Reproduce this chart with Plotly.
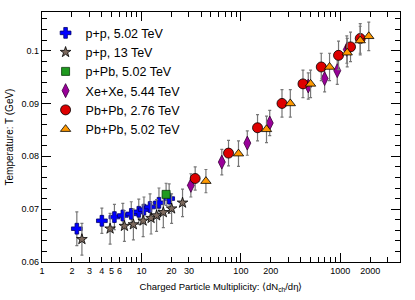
import plotly.graph_objects as go

# ---- data ----
pp502_x = [2.24, 4.0, 5.35, 6.5, 7.9, 9.4, 10.6, 12.2, 15.0, 19.0]
pp502_y = [0.0663, 0.0678, 0.0685, 0.0688, 0.0691, 0.0695, 0.0699, 0.0704, 0.0712, 0.0720]
pp502_e = [0.0032, 0.0024, 0.0024, 0.0023, 0.0023, 0.0024, 0.0024, 0.0025, 0.0028, 0.0028]

pp13_x = [2.52, 4.84, 6.74, 8.3, 10.4, 12.5, 14.2, 16.6, 20.1, 25.9]
pp13_y = [0.0643, 0.0663, 0.0668, 0.0671, 0.0678, 0.0683, 0.0688, 0.0694, 0.0701, 0.0712]
pp13_e = [0.0030, 0.0029, 0.0029, 0.0029, 0.0030, 0.0030, 0.0030, 0.0029, 0.0028, 0.0026]

ppb_x = [17.7]
ppb_y = [0.0728]
ppb_e = [0.0021]

xexe_x = [31.4, 64.3, 116, 195, 476, 695, 931, 1162]
xexe_y = [0.0745, 0.0789, 0.0825, 0.0863, 0.0933, 0.0947, 0.0962, 0.1002]
xexe_e = [0.0022, 0.0024, 0.0023, 0.0024, 0.0025, 0.0025, 0.0026, 0.0026]

pbpb276_x = [34.7, 75.1, 147, 259, 421, 643, 959, 1266, 1585]
pbpb276_y = [0.0758, 0.0806, 0.0854, 0.0900, 0.0937, 0.0969, 0.0991, 0.1007, 0.1023]
pbpb276_e = [0.0022, 0.0024, 0.0025, 0.0026, 0.0026, 0.0026, 0.0027, 0.0028, 0.0028]

pbpb502_x = [44.5, 94.6, 181, 314, 502, 779, 1173, 1585, 1932]
pbpb502_y = [0.0753, 0.0805, 0.0851, 0.0900, 0.0937, 0.0969, 0.0996, 0.1019, 0.1027]
pbpb502_e = [0.0022, 0.0024, 0.0025, 0.0026, 0.0026, 0.0026, 0.0027, 0.0027, 0.0027]

x_label_vals = [1, 2, 3, 4, 5, 6, 10, 20, 30, 100, 200, 1000, 2000]
x_label_text = ["1", "2", "3", "4", "5", "6", "10", "20", "30", "100", "200", "1000", "2000"]
x_decades = [1, 10, 100, 1000]
x_minor = [7, 8, 9, 40, 50, 60, 70, 80, 90, 300, 400, 500, 600, 700, 800, 900, 3000]

series = [
    ("p+p, 5.02 TeV", pp502_x, pp502_y, pp502_e, "cross", "#0000ff", "#00006a", 9),
    ("p+p, 13 TeV", pp13_x, pp13_y, pp13_e, "star", "#7d6a5e", "#000000", 8),
    ("p+Pb, 5.02 TeV", ppb_x, ppb_y, ppb_e, "square", "#1f9a1f", "#0a3a0a", 8),
    ("Xe+Xe, 5.44 TeV", xexe_x, xexe_y, xexe_e, "diamond-tall", "#990099", "#3a003a", 10),
    ("Pb+Pb, 2.76 TeV", pbpb276_x, pbpb276_y, pbpb276_e, "circle", "#dd0000", "#000000", 10),
    ("Pb+Pb, 5.02 TeV", pbpb502_x, pbpb502_y, pbpb502_e, "triangle-up", "#ff9900", "#000000", 9),
]

fig = go.Figure()
for name, xs, ys, es, sym, col, lcol, sz in series:
    fig.add_trace(go.Scatter(
        x=xs, y=ys, mode="markers", name=name,
        error_y=dict(type="data", array=es, visible=True, color="#777777",
                     thickness=1.2, width=1.5),
        marker=dict(symbol=sym, color=col, size=sz, line=dict(color=lcol, width=0.8)),
    ))

# decade ticks on overlaid axis
fig.add_trace(go.Scatter(x=[x_decades[0]], y=[0.06], xaxis="x2", mode="markers",
                         marker=dict(opacity=0), showlegend=False, hoverinfo="skip"))

font_family = "Liberation Sans, Arial, sans-serif"
fig.update_layout(
    width=415, height=300,
    margin=dict(l=42, r=15, t=12, b=38),
    paper_bgcolor="white", plot_bgcolor="white",
    font=dict(family=font_family, color="black", size=9),
    showlegend=True,
    legend=dict(x=0.01, y=0.975, xanchor="left", yanchor="top",
                font=dict(size=12.5, family=font_family),
                bgcolor="rgba(0,0,0,0)", itemsizing="trace"),
    xaxis=dict(type="log", range=[0, 3.6], showgrid=False, zeroline=False,
               showline=True, linecolor="black", linewidth=1.2, mirror="ticks",
               ticks="inside", ticklen=5, tickwidth=1, tickcolor="black",
               tickvals=x_label_vals, ticktext=x_label_text,
               tickfont=dict(size=9), automargin=False,
               minor=dict(tickvals=x_minor, ticks="inside", ticklen=5, tickcolor="black"),
               title=dict(text="Charged Particle Multiplicity: \u27e8dN<sub>ch</sub>/d\u03b7\u27e9",
                          font=dict(size=9.5), standoff=8)),
    xaxis2=dict(type="log", range=[0, 3.6], overlaying="x", side="bottom",
                showgrid=False, zeroline=False, showline=False, mirror="ticks",
                ticks="inside", ticklen=9, tickwidth=1, tickcolor="black",
                tickvals=x_decades, showticklabels=False, automargin=False),
    yaxis=dict(range=[0.06, 0.1073], showgrid=False, zeroline=False,
               showline=True, linecolor="black", linewidth=1.2, mirror="ticks",
               ticks="inside", ticklen=9, tickwidth=1, tickcolor="black",
               dtick=0.01, tick0=0.06, tickfont=dict(size=9), automargin=False,
               minor=dict(dtick=0.002, ticks="inside", ticklen=5, tickcolor="black"),
               title=dict(text="Temperature: T (GeV)", font=dict(size=10), standoff=6)),
)

fig.write_html("out.html", config={"displayModeBar": False},
               post_script="document.body.style.margin='0';document.body.style.overflow='hidden';")
